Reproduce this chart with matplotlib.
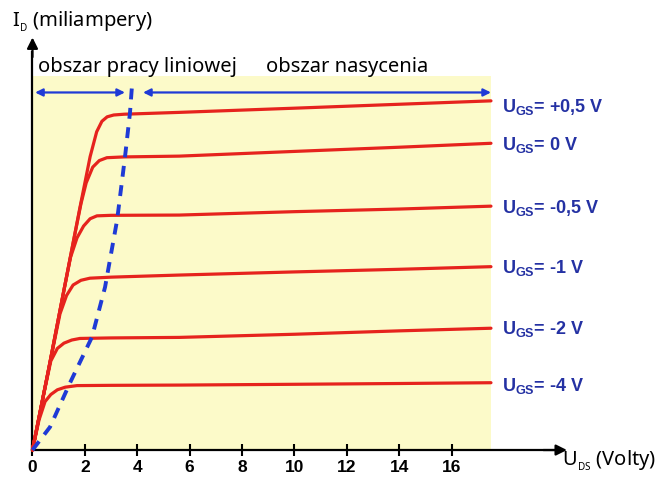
import numpy as np
import matplotlib
matplotlib.use("Agg")
import matplotlib.pyplot as plt
from matplotlib.patches import Rectangle

plt.rcParams['mathtext.fontset'] = 'custom'
plt.rcParams['mathtext.rm'] = 'Liberation Sans'
plt.rcParams['mathtext.bf'] = 'Liberation Sans:bold'
plt.rcParams['mathtext.sf'] = 'Noto Sans'

# U_GS labels and characteristic curves I_D(U_DS)
ugs_labels = ["+0,5", "0", "-0,5", "-1", "-2", "-4"]

vds_p05 = [0, 0.6, 1.2, 1.8, 2.2, 2.45, 2.65, 2.85, 3.1, 3.5, 5.6, 10, 14, 17.5]
id_p05 = [0, 3.0, 6.1, 9.2, 11.2, 12.15, 12.55, 12.72, 12.79, 12.82, 12.89, 13.05, 13.2, 13.33]

vds_0 = [0, 0.6, 1.2, 1.6, 1.85, 2.05, 2.3, 2.55, 2.84, 3.5, 5.6, 10, 14, 17.5]
id_0 = [0, 3.0, 6.1, 8.15, 9.4, 10.2, 10.8, 11.05, 11.16, 11.19, 11.22, 11.4, 11.56, 11.71]

vds_m05 = [0, 0.6, 1.2, 1.45, 1.7, 1.95, 2.2, 2.46, 3.0, 5.6, 10, 14, 17.5]
id_m05 = [0, 3.0, 6.1, 7.35, 8.1, 8.55, 8.83, 8.94, 8.96, 8.97, 9.1, 9.2, 9.31]

vds_m1 = [0, 0.6, 1.05, 1.3, 1.55, 1.85, 2.19, 3.0, 5.6, 10, 14, 17.5]
id_m1 = [0, 3.0, 5.2, 5.9, 6.3, 6.48, 6.56, 6.6, 6.68, 6.8, 6.9, 7.0]

vds_m2 = [0, 0.4, 0.7, 0.95, 1.2, 1.5, 1.81, 3.0, 5.6, 10, 14, 17.5]
id_m2 = [0, 2.0, 3.4, 3.88, 4.08, 4.2, 4.26, 4.28, 4.30, 4.42, 4.55, 4.65]

vds_m4 = [0, 0.25, 0.48, 0.7, 0.95, 1.25, 1.7, 3.0, 5.6, 10, 14, 17.5]
id_m4 = [0, 1.15, 1.85, 2.12, 2.3, 2.4, 2.46, 2.47, 2.48, 2.51, 2.54, 2.57]

curves = [(vds_p05, id_p05), (vds_0, id_0), (vds_m05, id_m05),
          (vds_m1, id_m1), (vds_m2, id_m2), (vds_m4, id_m4)]
label_y = [12.91, 11.45, 9.06, 6.77, 4.43, 2.25]

# boundary between linear and saturation region (dashed)
bound_vds = [0, 0.67, 1.43, 2.27, 2.77, 3.23, 3.53, 3.72, 3.80]
bound_id = [0, 0.88, 2.56, 4.31, 6.22, 8.78, 11.18, 12.86, 13.93]

xticks = [0, 2, 4, 6, 8, 10, 12, 14, 16]

red = '#e6231d'
blue = '#1f3ad6'
navy = '#2431a3'

fig = plt.figure(figsize=(6.72, 4.82), dpi=100)
ax = fig.add_axes([0, 0, 1, 1])
ax.set_xlim(-1.24, 24.41)
ax.set_ylim(-1.22, 17.18)

ax.add_patch(Rectangle((0, 0), 17.5, 14.28, facecolor='#fcfac9', edgecolor='none', zorder=0))

for vx, iy in curves:
    ax.plot(vx, iy, color=red, lw=2.3, solid_capstyle='round', solid_joinstyle='round', zorder=3)

ax.plot(bound_vds, bound_id, color=blue, lw=2.8, dashes=(2.8, 2.2), zorder=4)

# region arrows
arr = dict(arrowstyle='<|-|>', color=blue, lw=1.6, mutation_scale=11, shrinkA=0, shrinkB=0)
ax.annotate('', xy=(3.53, 13.65), xytext=(0.1, 13.65), arrowprops=arr, zorder=5)
ax.annotate('', xy=(17.5, 13.65), xytext=(4.22, 13.65), arrowprops=arr, zorder=5)

ax.text(0.2, 14.44, 'obszar pracy liniowej', fontsize=14.5, family='Noto Sans', va='baseline')
ax.text(8.9, 14.44, 'obszar nasycenia', fontsize=14.5, family='Noto Sans', va='baseline')

for lab, yy in zip(ugs_labels, label_y):
    ax.text(17.92, yy, r'$\mathbf{U_{GS}}$= ' + lab + ' V', fontsize=13, fontweight='bold',
            family='Liberation Sans', color=navy, va='baseline')

# axes with arrows
for s in ['top', 'right']:
    ax.spines[s].set_visible(False)
ax.spines['left'].set_position(('data', 0))
ax.spines['bottom'].set_position(('data', 0))
ax.spines['left'].set_bounds(0, 15.2)
ax.spines['bottom'].set_bounds(0, 19.9)
ax.spines['left'].set_linewidth(1.6)
ax.spines['bottom'].set_linewidth(1.6)
ax.annotate('', xy=(20.4, 0), xytext=(19.5, 0),
            arrowprops=dict(arrowstyle='-|>', color='black', lw=1.6, mutation_scale=16, shrinkA=0, shrinkB=0))
ax.annotate('', xy=(0, 15.75), xytext=(0, 15.0),
            arrowprops=dict(arrowstyle='-|>', color='black', lw=1.6, mutation_scale=16, shrinkA=0, shrinkB=0))

ax.set_xticks(xticks)
ax.set_xticklabels([str(t) for t in xticks], fontweight='bold',
                   family=['Liberation Sans Narrow', 'Liberation Sans'], fontsize=12.5)
ax.tick_params(axis='x', direction='inout', length=9, width=1.5, pad=3)
ax.set_yticks([])

ax.text(-0.8, 16.16, r'$\mathsf{I_{_D}}$ (miliampery)', fontsize=14.5, family='Noto Sans', va='baseline')
ax.text(20.2, -0.57, r'$\mathsf{U_{_{DS}}}$ (Volty)', fontsize=14.5, family='Noto Sans', va='baseline')

fig.savefig('out.png', dpi=100)
